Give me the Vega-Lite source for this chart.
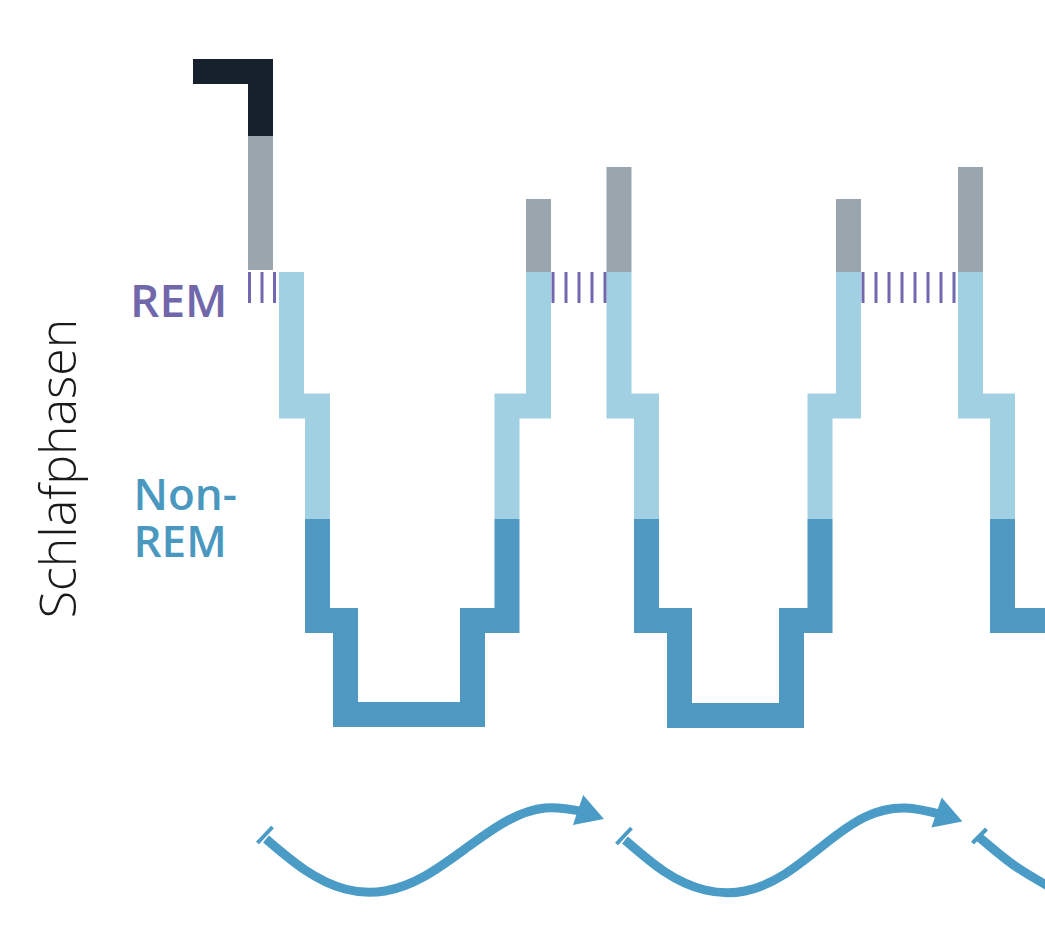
{
  "$schema": "https://vega.github.io/schema/vega-lite/v6.json",
  "width": 1045,
  "height": 941,
  "autosize": {"type": "fit", "contains": "padding"},
  "padding": 0,
  "background": "white",
  "config": {"view": {"stroke": null}},
  "datasets": {
    "pfad": [
      {"seg": "w1", "phase": "Wach", "o": 1, "zeit": 19.3, "tiefe": 7.15},
      {"seg": "w1", "phase": "Wach", "o": 2, "zeit": 26.05, "tiefe": 7.15},
      {"seg": "w1", "phase": "Wach", "o": 3, "zeit": 26.05, "tiefe": 13.6},
      {"seg": "g1", "phase": "Kurz wach", "o": 1, "zeit": 26.05, "tiefe": 13.6},
      {"seg": "g1", "phase": "Kurz wach", "o": 2, "zeit": 26.05, "tiefe": 27.0},
      {"seg": "L1", "phase": "Leichtschlaf", "o": 1, "zeit": 29.15, "tiefe": 27.2},
      {"seg": "L1", "phase": "Leichtschlaf", "o": 2, "zeit": 29.15, "tiefe": 40.6},
      {"seg": "L1", "phase": "Leichtschlaf", "o": 3, "zeit": 31.75, "tiefe": 40.6},
      {"seg": "L1", "phase": "Leichtschlaf", "o": 4, "zeit": 31.75, "tiefe": 51.9},
      {"seg": "D1", "phase": "Tiefschlaf", "o": 1, "zeit": 31.75, "tiefe": 51.9},
      {"seg": "D1", "phase": "Tiefschlaf", "o": 2, "zeit": 31.75, "tiefe": 62.05},
      {"seg": "D1", "phase": "Tiefschlaf", "o": 3, "zeit": 34.55, "tiefe": 62.05},
      {"seg": "D1", "phase": "Tiefschlaf", "o": 4, "zeit": 34.55, "tiefe": 71.45},
      {"seg": "D1", "phase": "Tiefschlaf", "o": 5, "zeit": 47.25, "tiefe": 71.45},
      {"seg": "D1", "phase": "Tiefschlaf", "o": 6, "zeit": 47.25, "tiefe": 62.05},
      {"seg": "D1", "phase": "Tiefschlaf", "o": 7, "zeit": 50.7, "tiefe": 62.05},
      {"seg": "D1", "phase": "Tiefschlaf", "o": 8, "zeit": 50.7, "tiefe": 51.9},
      {"seg": "L2", "phase": "Leichtschlaf", "o": 1, "zeit": 50.7, "tiefe": 51.9},
      {"seg": "L2", "phase": "Leichtschlaf", "o": 2, "zeit": 50.7, "tiefe": 40.6},
      {"seg": "L2", "phase": "Leichtschlaf", "o": 3, "zeit": 53.85, "tiefe": 40.6},
      {"seg": "L2", "phase": "Leichtschlaf", "o": 4, "zeit": 53.85, "tiefe": 27.2},
      {"seg": "g2", "phase": "Kurz wach", "o": 1, "zeit": 53.85, "tiefe": 27.2},
      {"seg": "g2", "phase": "Kurz wach", "o": 2, "zeit": 53.85, "tiefe": 19.9},
      {"seg": "g3", "phase": "Kurz wach", "o": 1, "zeit": 61.9, "tiefe": 16.7},
      {"seg": "g3", "phase": "Kurz wach", "o": 2, "zeit": 61.9, "tiefe": 27.2},
      {"seg": "L3", "phase": "Leichtschlaf", "o": 1, "zeit": 61.9, "tiefe": 27.2},
      {"seg": "L3", "phase": "Leichtschlaf", "o": 2, "zeit": 61.9, "tiefe": 40.6},
      {"seg": "L3", "phase": "Leichtschlaf", "o": 3, "zeit": 64.65, "tiefe": 40.6},
      {"seg": "L3", "phase": "Leichtschlaf", "o": 4, "zeit": 64.65, "tiefe": 51.9},
      {"seg": "D2", "phase": "Tiefschlaf", "o": 1, "zeit": 64.65, "tiefe": 51.9},
      {"seg": "D2", "phase": "Tiefschlaf", "o": 2, "zeit": 64.65, "tiefe": 62.05},
      {"seg": "D2", "phase": "Tiefschlaf", "o": 3, "zeit": 67.95, "tiefe": 62.05},
      {"seg": "D2", "phase": "Tiefschlaf", "o": 4, "zeit": 67.95, "tiefe": 71.55},
      {"seg": "D2", "phase": "Tiefschlaf", "o": 5, "zeit": 79.15, "tiefe": 71.55},
      {"seg": "D2", "phase": "Tiefschlaf", "o": 6, "zeit": 79.15, "tiefe": 62.05},
      {"seg": "D2", "phase": "Tiefschlaf", "o": 7, "zeit": 82.0, "tiefe": 62.05},
      {"seg": "D2", "phase": "Tiefschlaf", "o": 8, "zeit": 82.0, "tiefe": 51.9},
      {"seg": "L4", "phase": "Leichtschlaf", "o": 1, "zeit": 82.0, "tiefe": 51.9},
      {"seg": "L4", "phase": "Leichtschlaf", "o": 2, "zeit": 82.0, "tiefe": 40.6},
      {"seg": "L4", "phase": "Leichtschlaf", "o": 3, "zeit": 84.85, "tiefe": 40.6},
      {"seg": "L4", "phase": "Leichtschlaf", "o": 4, "zeit": 84.85, "tiefe": 27.2},
      {"seg": "g4", "phase": "Kurz wach", "o": 1, "zeit": 84.85, "tiefe": 27.2},
      {"seg": "g4", "phase": "Kurz wach", "o": 2, "zeit": 84.85, "tiefe": 19.9},
      {"seg": "g5", "phase": "Kurz wach", "o": 1, "zeit": 97.05, "tiefe": 16.7},
      {"seg": "g5", "phase": "Kurz wach", "o": 2, "zeit": 97.05, "tiefe": 27.2},
      {"seg": "L5", "phase": "Leichtschlaf", "o": 1, "zeit": 97.05, "tiefe": 27.2},
      {"seg": "L5", "phase": "Leichtschlaf", "o": 2, "zeit": 97.05, "tiefe": 40.6},
      {"seg": "L5", "phase": "Leichtschlaf", "o": 3, "zeit": 100.25, "tiefe": 40.6},
      {"seg": "L5", "phase": "Leichtschlaf", "o": 4, "zeit": 100.25, "tiefe": 51.9},
      {"seg": "D3", "phase": "Tiefschlaf", "o": 1, "zeit": 100.25, "tiefe": 51.9},
      {"seg": "D3", "phase": "Tiefschlaf", "o": 2, "zeit": 100.25, "tiefe": 62.05},
      {"seg": "D3", "phase": "Tiefschlaf", "o": 3, "zeit": 106.0, "tiefe": 62.05}
    ],
    "rem": [
      {"zeit": 24.95, "tiefe": 27.2, "tiefe2": 30.3},
      {"zeit": 26.2, "tiefe": 27.2, "tiefe2": 30.3},
      {"zeit": 27.45, "tiefe": 27.2, "tiefe2": 30.3},
      {"zeit": 55.3, "tiefe": 27.2, "tiefe2": 30.3},
      {"zeit": 56.6, "tiefe": 27.2, "tiefe2": 30.3},
      {"zeit": 57.9, "tiefe": 27.2, "tiefe2": 30.3},
      {"zeit": 59.2, "tiefe": 27.2, "tiefe2": 30.3},
      {"zeit": 60.5, "tiefe": 27.2, "tiefe2": 30.3},
      {"zeit": 86.3, "tiefe": 27.2, "tiefe2": 30.3},
      {"zeit": 87.6, "tiefe": 27.2, "tiefe2": 30.3},
      {"zeit": 88.9, "tiefe": 27.2, "tiefe2": 30.3},
      {"zeit": 90.2, "tiefe": 27.2, "tiefe2": 30.3},
      {"zeit": 91.5, "tiefe": 27.2, "tiefe2": 30.3},
      {"zeit": 92.8, "tiefe": 27.2, "tiefe2": 30.3},
      {"zeit": 94.1, "tiefe": 27.2, "tiefe2": 30.3},
      {"zeit": 95.4, "tiefe": 27.2, "tiefe2": 30.3}
    ],
    "zyklus": [
      {"z": 1, "o": 1, "zeit": 26.6, "tiefe": 83.9},
      {"z": 1, "o": 2, "zeit": 30.5, "tiefe": 87.0},
      {"z": 1, "o": 3, "zeit": 34.5, "tiefe": 88.9},
      {"z": 1, "o": 4, "zeit": 38.5, "tiefe": 89.1},
      {"z": 1, "o": 5, "zeit": 42.5, "tiefe": 87.6},
      {"z": 1, "o": 6, "zeit": 46.5, "tiefe": 84.9},
      {"z": 1, "o": 7, "zeit": 50.5, "tiefe": 82.2},
      {"z": 1, "o": 8, "zeit": 54.5, "tiefe": 80.8},
      {"z": 1, "o": 9, "zeit": 58.5, "tiefe": 81.2},
      {"z": 2, "o": 1, "zeit": 62.5, "tiefe": 84.0},
      {"z": 2, "o": 2, "zeit": 66.5, "tiefe": 87.2},
      {"z": 2, "o": 3, "zeit": 70.5, "tiefe": 89.0},
      {"z": 2, "o": 4, "zeit": 74.5, "tiefe": 89.1},
      {"z": 2, "o": 5, "zeit": 78.5, "tiefe": 87.4},
      {"z": 2, "o": 6, "zeit": 82.5, "tiefe": 84.4},
      {"z": 2, "o": 7, "zeit": 86.5, "tiefe": 81.7},
      {"z": 2, "o": 8, "zeit": 90.5, "tiefe": 80.8},
      {"z": 2, "o": 9, "zeit": 94.3, "tiefe": 81.5},
      {"z": 3, "o": 1, "zeit": 97.9, "tiefe": 83.7},
      {"z": 3, "o": 2, "zeit": 101.5, "tiefe": 86.6},
      {"z": 3, "o": 3, "zeit": 105.5, "tiefe": 89.0}
    ],
    "start": [
      {"z": 1, "zeit": 25.75, "tiefe": 84.3},
      {"z": 1, "zeit": 27.25, "tiefe": 82.7},
      {"z": 2, "zeit": 61.65, "tiefe": 84.4},
      {"z": 2, "zeit": 63.15, "tiefe": 82.8},
      {"z": 3, "zeit": 97.25, "tiefe": 84.3},
      {"z": 3, "zeit": 98.65, "tiefe": 82.9}
    ],
    "spitze": [
      {"z": 1, "zeit": 59.1, "tiefe": 81.45},
      {"z": 2, "zeit": 94.95, "tiefe": 81.7}
    ]
  },
  "layer": [
    {
      "data": {"name": "pfad"},
      "mark": {"type": "line", "strokeWidth": 25, "strokeCap": "butt", "strokeJoin": "miter", "clip": true},
      "encoding": {
        "x": {"field": "zeit", "type": "quantitative", "scale": {"domain": [0, 104.5], "nice": false, "zero": false}, "axis": null},
        "y": {"field": "tiefe", "type": "quantitative", "scale": {"domain": [0, 94.1], "nice": false, "zero": false, "reverse": true}, "axis": null},
        "detail": {"field": "seg"},
        "order": {"field": "o", "type": "quantitative"},
        "color": {"field": "phase", "type": "nominal", "legend": null,
          "scale": {"domain": ["Wach", "Kurz wach", "Leichtschlaf", "Tiefschlaf"], "range": ["#16212d", "#9ba5ad", "#a1d0e2", "#4f98c2"]}}
      }
    },
    {
      "data": {"name": "rem"},
      "mark": {"type": "rule", "strokeWidth": 3, "color": "#7168b0"},
      "encoding": {
        "x": {"field": "zeit", "type": "quantitative"},
        "y": {"field": "tiefe", "type": "quantitative"},
        "y2": {"field": "tiefe2"}
      }
    },
    {
      "data": {"name": "zyklus"},
      "mark": {"type": "line", "strokeWidth": 9, "interpolate": "natural", "color": "#4a9bc6", "strokeCap": "butt", "clip": true},
      "encoding": {
        "x": {"field": "zeit", "type": "quantitative"},
        "y": {"field": "tiefe", "type": "quantitative"},
        "detail": {"field": "z"},
        "order": {"field": "o", "type": "quantitative"}
      }
    },
    {
      "data": {"name": "start"},
      "mark": {"type": "line", "strokeWidth": 4, "color": "#4a9bc6", "strokeCap": "butt"},
      "encoding": {
        "x": {"field": "zeit", "type": "quantitative"},
        "y": {"field": "tiefe", "type": "quantitative"},
        "detail": {"field": "z"}
      }
    },
    {
      "data": {"name": "spitze"},
      "mark": {"type": "point", "shape": "triangle-right", "filled": true, "size": 1000, "angle": 19, "color": "#4a9bc6", "opacity": 1},
      "encoding": {
        "x": {"field": "zeit", "type": "quantitative"},
        "y": {"field": "tiefe", "type": "quantitative"}
      }
    },
    {
      "data": {"values": [{"t": "REM", "zeit": 13.0, "tiefe": 31.7}]},
      "mark": {"type": "text", "align": "left", "baseline": "alphabetic", "font": "Open Sans", "fontWeight": 600, "fontSize": 46, "color": "#7168ab"},
      "encoding": {
        "x": {"field": "zeit", "type": "quantitative"},
        "y": {"field": "tiefe", "type": "quantitative"},
        "text": {"field": "t"}
      }
    },
    {
      "data": {"values": [{"t": "Non-\nREM", "zeit": 13.35, "tiefe": 51.0}]},
      "mark": {"type": "text", "align": "left", "baseline": "alphabetic", "lineBreak": "\n", "lineHeight": 47, "font": "Open Sans", "fontWeight": 600, "fontSize": 44, "color": "#4a98bf"},
      "encoding": {
        "x": {"field": "zeit", "type": "quantitative"},
        "y": {"field": "tiefe", "type": "quantitative"},
        "text": {"field": "t"}
      }
    },
    {
      "data": {"values": [{"t": "Schlafphasen", "zeit": 6.1, "tiefe": 46.85}]},
      "mark": {"type": "text", "align": "center", "baseline": "middle", "angle": 270, "font": "Open Sans", "fontWeight": 300, "fontSize": 50, "color": "#1a1a1a"},
      "encoding": {
        "x": {"field": "zeit", "type": "quantitative"},
        "y": {"field": "tiefe", "type": "quantitative"},
        "text": {"field": "t"}
      }
    }
  ]
}
